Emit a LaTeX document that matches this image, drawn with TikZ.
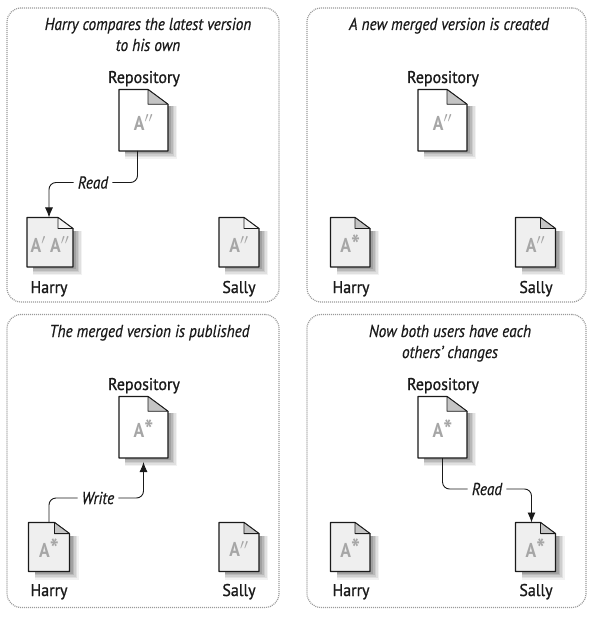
\documentclass[tikz,border=0pt]{standalone}
\usepackage{fontspec}
\setmainfont[FakeStretch=0.88,ItalicFeatures={FakeBold=0.5}]{PT Sans}
\newfontfamily\lblfont[FakeStretch=0.94,FakeBold=1]{PT Sans}
\usetikzlibrary{arrows.meta,calc}
\definecolor{docgray}{HTML}{EFEFEF}
\definecolor{foldgray}{HTML}{C4C4C4}
\definecolor{foldlight}{HTML}{F4F4F4}
\definecolor{framegray}{HTML}{9A9A9A}
\definecolor{lettergray}{HTML}{A6A6A6}
\definecolor{inkblack}{HTML}{1A1A1A}
\newcommand{\bigstar}{\raisebox{-1.5pt}{\fontsize{27}{27}\selectfont *}}
\tikzset{
  panel/.style={draw=framegray,line width=1.2pt,dash pattern=on 1pt off 1pt,rounded corners=14pt},
  doctext/.style={font=\fontsize{20}{20}\selectfont\bfseries,text=lettergray,inner sep=0pt},
  doclabel/.style={font=\lblfont\fontsize{17}{18}\selectfont,text=inkblack,inner sep=0pt,anchor=base},
  caption/.style={font=\fontsize{17.3}{18.5}\selectfont\itshape,text=inkblack,align=center,inner sep=0pt,anchor=base},
  conn/.style={draw=inkblack,line width=.9pt,rounded corners=7pt},
  arr/.style={conn,-{Latex[length=10pt,width=8pt]}},
  flow/.style={font=\fontsize{17.3}{18}\selectfont\itshape,text=inkblack,inner xsep=4pt,inner ysep=1pt},
}
% [fold colour], name, left, top, right, bottom, body fill, label
\newcommand{\docfig}[8][foldgray]{%
  \pgfmathsetmacro\fw{(#6-#4)>55?20:15}%
  \pgfmathsetmacro\fh{\fw*.74}%
  \foreach \o/\t in {9/.05,7.5/.07,6/.08,4.5/.1,3/.12}{%
    \fill[black,opacity=\t] (#3+6,#4+\fh+2) -- (#5+\o,#4+\fh+2) -- (#5+\o,#6+\o-1) -- (#3+6,#6+\o-1) -- cycle;
  }
  \draw[draw=inkblack,line width=1.1pt,fill=#7,line join=round]
    (#3,#4) -- (#5-\fw,#4) -- (#5,#4+\fh) -- (#5,#6) -- (#3,#6) -- cycle;
  \draw[draw=inkblack,line width=.8pt,fill=#1,line join=round]
    (#5-\fw,#4) -- (#5,#4+\fh) -- (#5-\fw,#4+\fh) -- cycle;
  \node[minimum width={(#5-#3)*1pt},minimum height={(#6-#4)*1pt},inner sep=0pt,outer sep=0pt] (#2) at ({(#3+#5)/2},{(#4+#6)/2}) {};
  \node[doctext] (#2t) at ({(#3+#5)/2},{(#4+#6)/2+2}) {#8};
}
\begin{document}
\begin{tikzpicture}[x=1pt,y=-1pt]
\useasboundingbox (0,0) rectangle (598,617);
\fill[white] (0,0) rectangle (598,617);

% panels
\node[panel,minimum width=272pt,minimum height=294pt,inner sep=0pt] (p1) at (143,155) {};
\node[panel,minimum width=279pt,minimum height=294pt,inner sep=0pt] (p2) at (446.5,155) {};
\node[panel,minimum width=272pt,minimum height=293pt,inner sep=0pt] (p3) at (143,461) {};
\node[panel,minimum width=279pt,minimum height=293pt,inner sep=0pt] (p4) at (446.5,461) {};

% top left
\node[caption] (c1) at (148,30) {Harry compares the latest version};
\node[caption] (c1b) at (148,51) {to his own};
\node[doclabel] (rl1) at (144,83) {Repository};
\docfig{r1}{119}{89.5}{168}{151}{white}{A$''$}
\docfig[foldlight]{h1}{27}{217.5}{73}{267}{docgray}{A$'$ A$''$}
\docfig[foldlight]{s1}{219}{217.5}{259}{267}{docgray}{A$''$}
\node[doclabel] (hl1) at (49,293) {Harry};
\node[doclabel] (sl1) at (239,293) {Sally};
\node[flow] (f1) at (93,182.5) {Read};
\draw[conn] ([xshift=-6pt]r1.south) |- (f1.east);
\draw[arr] (f1.west) -| ([xshift=-1pt]h1.north);

% top right
\node[caption] (c2) at (449,30) {A new merged version is created};
\node[doclabel] (rl2) at (443,83) {Repository};
\docfig{r2}{418}{89.5}{467}{151}{white}{A$''$}
\docfig{h2}{330.5}{217.5}{370}{267}{docgray}{A\bigstar}
\docfig{s2}{515.5}{217.5}{555.5}{267}{docgray}{A$''$}
\node[doclabel] (hl2) at (351,293) {Harry};
\node[doclabel] (sl2) at (536,293) {Sally};

% bottom left
\node[caption] (c3) at (149.5,337) {The merged version is published};
\node[doclabel] (rl3) at (144,390) {Repository};
\docfig{r3}{119}{396.5}{168}{458}{white}{A\bigstar}
\docfig{h3}{28.5}{522.5}{69.5}{571.5}{docgray}{A\bigstar}
\docfig{s3}{219}{522.5}{259}{571.5}{docgray}{A$''$}
\node[doclabel] (hl3) at (49,596) {Harry};
\node[doclabel] (sl3) at (239,596) {Sally};
\node[flow] (f3) at (98,498) {Write};
\draw[conn] (h3.north) |- (f3.west);
\draw[arr,shorten >=4pt] (f3.east) -| (r3.south);

% bottom right
\node[caption] (c4) at (450,337) {Now both users have each};
\node[caption] (c4b) at (450,358) {others' changes};
\node[doclabel] (rl4) at (443,390) {Repository};
\docfig{r4}{418}{396.5}{467}{458}{white}{A\bigstar}
\docfig{h4}{330.5}{522.5}{370}{571.5}{docgray}{A\bigstar}
\docfig{s4}{515.5}{522.5}{555.5}{571.5}{docgray}{A\bigstar}
\node[doclabel] (hl4) at (351,596) {Harry};
\node[doclabel] (sl4) at (536,596) {Sally};
\node[flow] (f4) at (487,489) {Read};
\draw[conn] ([xshift=0pt]r4.south) |- (f4.west);
\draw[arr] (f4.east) -| ([xshift=-4pt]s4.north);
\end{tikzpicture}
\end{document}
